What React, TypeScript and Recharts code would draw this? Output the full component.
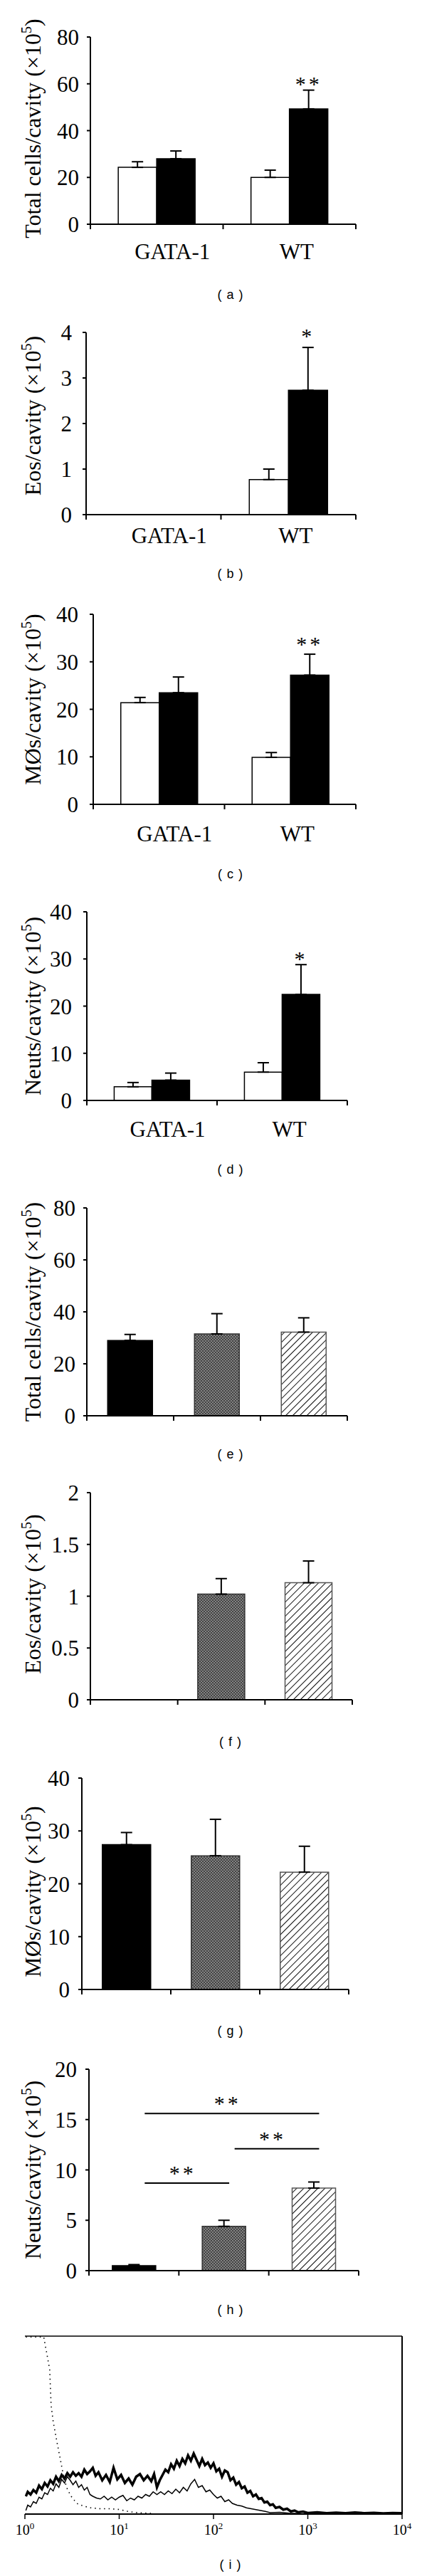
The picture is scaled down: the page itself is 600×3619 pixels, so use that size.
import React from "react"
import {
  Bar,
  BarChart,
  Cell,
  ErrorBar,
  LabelList,
  Line,
  LineChart,
  ReferenceLine,
  XAxis,
  YAxis,
} from "recharts"

const SERIF = "'Liberation Serif', 'Times New Roman', serif"
const SANS = "'Liberation Sans', Arial, sans-serif"
const INK = "#000"

// (a)-(d): GATA-1 vs WT, open = control, filled = challenged (x10^5 cells/cavity)
const STRAINS = ["GATA-1", "WT"]

const TOTAL_OPEN = [24.3, 20.0]
const TOTAL_OPEN_ERR = [2.4, 3.1]
const TOTAL_FILLED = [28.0, 49.3]
const TOTAL_FILLED_ERR = [3.3, 8.0]
const TOTAL_SIG = ["", "**"]

const EOS_OPEN = [0, 0.77]
const EOS_OPEN_ERR = [0, 0.23]
const EOS_FILLED = [0, 2.73]
const EOS_FILLED_ERR = [0, 0.94]
const EOS_SIG = ["", "*"]

const MAC_OPEN = [21.4, 9.9]
const MAC_OPEN_ERR = [1.1, 1.0]
const MAC_FILLED = [23.5, 27.2]
const MAC_FILLED_ERR = [3.3, 4.4]
const MAC_SIG = ["", "**"]

const NEUT_OPEN = [2.9, 6.0]
const NEUT_OPEN_ERR = [0.9, 2.0]
const NEUT_FILLED = [4.3, 22.5]
const NEUT_FILLED_ERR = [1.5, 6.3]
const NEUT_SIG = ["", "*"]

// (e)-(h): three treatment groups (solid, dotted, hatched)
const TREATMENTS = ["solid", "dotted", "hatched"]

const TOTAL2 = [29.0, 31.5, 32.2]
const TOTAL2_ERR = [2.3, 7.8, 5.5]
const EOS2 = [0, 1.02, 1.13]
const EOS2_ERR = [0, 0.15, 0.21]
const MAC2 = [27.4, 25.3, 22.2]
const MAC2_ERR = [2.3, 6.9, 4.9]
const NEUT2 = [0.5, 4.4, 8.2]
const NEUT2_ERR = [0.1, 0.6, 0.6]

// significance brackets in (h): compared groups and bracket level (x10^5)
const NEUT2_BRACKETS = [
  { from: "solid", to: "hatched", level: 15.6, label: "**" },
  { from: "dotted", to: "hatched", level: 12.1, label: "**" },
  { from: "solid", to: "dotted", level: 8.7, label: "**" },
]

// (i): flow histogram, x = log10 intensity, y = % of max count
const THICK_LOG = [
  0.01, 0.03, 0.06, 0.09, 0.12, 0.15, 0.18, 0.21, 0.24, 0.27, 0.3, 0.33, 0.36,
  0.39, 0.42, 0.45, 0.48, 0.51, 0.54, 0.57, 0.6, 0.63, 0.66, 0.69, 0.72, 0.75,
  0.78, 0.82, 0.86, 0.9, 0.94, 0.98, 1.02, 1.06, 1.1, 1.14, 1.18, 1.22, 1.26,
  1.3, 1.34, 1.37, 1.4, 1.43, 1.46, 1.49, 1.52, 1.55, 1.58, 1.61, 1.64, 1.67,
  1.7, 1.73, 1.76, 1.79, 1.82, 1.85, 1.88, 1.91, 1.94, 1.97, 2.0, 2.03, 2.06,
  2.09, 2.12, 2.15, 2.18, 2.21, 2.24, 2.27, 2.3, 2.33, 2.36, 2.39, 2.42, 2.45,
  2.48, 2.51, 2.54, 2.57, 2.6, 2.63, 2.66, 2.7, 2.74, 2.78, 2.82, 2.86, 2.9,
  2.95, 3.0, 3.1, 3.2, 3.3, 3.4, 3.5, 3.6, 3.7, 3.8, 3.9, 4.0,
]
const THICK_COUNT = [
  10, 12.5, 11, 13.5, 12, 16, 14, 17.5, 15.5, 19, 17, 21, 18.5,
  22, 20, 23, 21, 23.5, 21.5, 23, 21, 25, 22.5, 24, 26, 21.5,
  23.5, 19, 22, 18, 26, 19.5, 22, 17.5, 20, 16.5, 21, 22.5, 19,
  21.5, 18.5, 22.5, 15, 19, 22, 25, 23.5, 28, 25.5, 30, 27, 31,
  28.5, 33, 30, 34, 30.5, 27, 31, 27.5, 29, 26, 28.5, 24, 25.5,
  21, 24.5, 23.5, 19, 20.5, 16.5, 18, 14.5, 15.5, 12, 13, 10, 11,
  8.5, 9, 6.5, 7, 5, 5.5, 3.5, 4, 2.5, 3, 1.5, 2, 1,
  1.4, 0.6, 1, 0.5, 0.8, 0.5, 0.9, 0.5, 0.7, 0.4, 0.6, 0.5,
]

const THIN_LOG = [
  0.01, 0.03, 0.06, 0.09, 0.12, 0.15, 0.18, 0.21, 0.24, 0.27, 0.3, 0.33, 0.36,
  0.39, 0.42, 0.45, 0.48, 0.51, 0.54, 0.57, 0.6, 0.63, 0.66, 0.69, 0.72, 0.76,
  0.8, 0.84, 0.88, 0.92, 0.96, 1.0, 1.04, 1.08, 1.12, 1.16, 1.2, 1.24, 1.28,
  1.32, 1.36, 1.4, 1.44, 1.48, 1.52, 1.56, 1.6, 1.64, 1.68, 1.72, 1.76, 1.8,
  1.84, 1.88, 1.92, 1.96, 2.0, 2.04, 2.08, 2.12, 2.16, 2.2, 2.25, 2.3, 2.35,
  2.4, 2.45, 2.5, 2.55, 2.6, 2.7, 2.8, 2.9,
]
const THIN_COUNT = [
  2, 5, 4, 7, 6, 9.5, 8.5, 12, 11, 14.5, 13, 17, 15,
  19.5, 17.5, 21, 19, 16.5, 18.5, 15, 16.5, 13.5, 15, 11, 10, 9,
  8.5, 10, 8, 9.5, 8, 9.5, 10.5, 7.5, 9, 8, 10, 9, 11,
  10, 12.5, 11, 12.5, 11, 13, 11.5, 14, 12, 15, 13, 17, 19.5,
  15, 16, 12.5, 13.5, 11, 9, 10, 7, 8, 6, 5, 4.5, 3.5,
  3, 2.5, 2, 1.5, 0.8, 1, 0.5, 0.4,
]

const DOTTED_LOG = [
  0.01, 0.2, 0.215, 0.24, 0.263, 0.278, 0.3, 0.338, 0.373, 0.416, 0.45, 0.49,
  0.55, 0.62, 0.7, 0.8, 0.9, 1.0, 1.08, 1.15, 1.25, 1.35,
]
const DOTTED_COUNT = [
  99.5, 99.5, 95, 88, 81, 61, 52, 41, 31.5, 19.5, 14, 10,
  6, 4.5, 3.5, 3, 3, 2.6, 1.6, 1, 0.6, 0.4,
]

const DECADES = [0, 1, 2, 3, 4]

interface Series {
  key: string
  values: number[]
  errors: number[]
  fills: string[]
  strokes: string[]
  sig?: string[]
}

interface Bracket {
  from: string
  to: string
  level: number
  label: string
}

interface BarPanelProps {
  id: string
  top: number
  yTop: number
  yZero: number
  xLeft: number
  xRight: number
  max: number
  ticks: number[]
  groups: string[]
  series: Series[]
  title: string
  titleShift?: number
  tickGap: number
  labelDrop?: number
  gapPct: string
  starGap?: number
  brackets?: Bracket[]
}

const LABEL_DX = [22, 10]

function buildRows(groups: string[], series: Series[]) {
  return groups.map((name, i) => {
    const row: Record<string, unknown> = { name }
    series.forEach((s) => {
      row[s.key] = s.values[i]
      row[`${s.key}Err`] = [0, s.errors[i]]
      // star text | error | value, so the label can place itself above the whisker
      row[`${s.key}Sig`] =
        s.sig && s.sig[i] ? `${s.sig[i]}|${s.errors[i]}|${s.values[i]}` : ""
    })
    return row
  })
}

const starLabel = (gap: number) => (p: any) => {
  if (!p.value) return null
  const vb = p.viewBox || {}
  const x = p.x ?? vb.x
  const y = p.y ?? vb.y
  const width = p.width ?? vb.width
  const height = p.height ?? vb.height
  const [text, errStr, valStr] = String(p.value).split("|")
  const v = Number(valStr)
  if (!v) return null
  const errPx = Number(errStr) * (Math.abs(height) / v)
  const barTop = Math.min(y, y + height)
  return (
    <text
      x={x + width / 2}
      y={barTop - errPx - gap + 15}
      textAnchor="middle"
      fontFamily={SERIF}
      fontSize={30}
      letterSpacing={4}
      fill={INK}
    >
      {text}
    </text>
  )
}

function BarPanel(props: BarPanelProps) {
  const {
    id,
    top,
    yTop,
    yZero,
    xLeft,
    xRight,
    max,
    ticks,
    groups,
    series,
    title,
    titleShift = 0,
    tickGap,
    labelDrop,
    gapPct,
    starGap = 15,
    brackets,
  } = props
  const height = yZero - top + 70
  const rows = buildRows(groups, series)
  const bw = (xRight - xLeft) / groups.length
  const titleY = (yTop + yZero) / 2 - top + titleShift

  const CatTick = (p: any) => {
    const { x, y, payload, index } = p
    const half = bw / 2
    return (
      <g>
        <line x1={x - half} x2={x - half} y1={y} y2={y + 7} stroke={INK} strokeWidth={2} />
        {index === groups.length - 1 && (
          <line x1={x + half} x2={x + half} y1={y} y2={y + 7} stroke={INK} strokeWidth={2} />
        )}
        {labelDrop != null && (
          <text
            x={x + (LABEL_DX[index] || 0)}
            y={y + labelDrop + 10}
            textAnchor="middle"
            fontFamily={SERIF}
            fontSize={31}
            fill={INK}
          >
            {payload.value}
          </text>
        )}
      </g>
    )
  }

  const renderTitle = () => (
    <text
      x={57}
      y={titleY}
      transform={`rotate(-90 57 ${titleY})`}
      textAnchor="middle"
      fontFamily={SERIF}
      fontSize={32}
      fill={INK}
    >
      {title}
      <tspan fontSize={20} dy={-13}>
        5
      </tspan>
      <tspan dy={13}>)</tspan>
    </text>
  )

  // bracket ends sit a little right of the bar centres in the original figure
  const bracketShape = (label: string) => (p: any) => {
    const x1 = p.x1 + bw * 0.12
    const x2 = p.x2 + bw * 0.06
    const y = p.y1
    return (
      <g>
        <line x1={x1} x2={x2} y1={y} y2={y} stroke={INK} strokeWidth={2} />
        <text
          x={(x1 + x2) / 2 - 6}
          y={y - 4}
          textAnchor="middle"
          fontFamily={SERIF}
          fontSize={30}
          letterSpacing={4}
          fill={INK}
        >
          {label}
        </text>
      </g>
    )
  }

  return (
    <div style={{ position: "absolute", left: 0, top, width: 600, height }}>
      <BarChart
        width={600}
        height={height}
        data={rows}
        margin={{ top: yTop - top, right: 600 - xRight, bottom: 10, left: 0 }}
        barGap={0}
        barCategoryGap={gapPct}
      >
        <defs>
          <pattern id={`dots-${id}`} width={4} height={4} patternUnits="userSpaceOnUse">
            <rect width={4} height={4} fill="#444" />
            <rect x={0} y={0} width={2} height={2} fill="#828282" />
            <rect x={2} y={2} width={2} height={2} fill="#828282" />
          </pattern>
          <pattern
            id={`hatch-${id}`}
            width={7}
            height={7}
            patternUnits="userSpaceOnUse"
            patternTransform="rotate(45)"
          >
            <rect width={7} height={7} fill="#fff" />
            <line x1={0} y1={0} x2={0} y2={7} stroke="#111" strokeWidth={2} />
          </pattern>
        </defs>
        <XAxis
          xAxisId="cat"
          dataKey="name"
          height={60}
          interval={0}
          tickSize={0}
          tickMargin={0}
          tickLine={false}
          axisLine={{ stroke: INK, strokeWidth: 2 }}
          tick={CatTick}
        />
        <YAxis
          width={xLeft}
          domain={[0, max]}
          ticks={ticks}
          interval={0}
          tickSize={5}
          tickMargin={tickGap - 5}
          tickLine={{ stroke: INK, strokeWidth: 2 }}
          axisLine={{ stroke: INK, strokeWidth: 2 }}
          tick={{ fontSize: 31, fontFamily: SERIF, fill: INK }}
          label={renderTitle}
        />
        {series.map((s) => (
          <Bar key={s.key} xAxisId="cat" dataKey={s.key} isAnimationActive={false}>
            {rows.map((_, i) => (
              <Cell
                key={i}
                fill={s.fills[i].replace("#id", id)}
                stroke={s.strokes[i]}
                strokeWidth={1.5}
              />
            ))}
            <ErrorBar
              dataKey={`${s.key}Err`}
              width={8}
              strokeWidth={2}
              stroke={INK}
              direction="y"
              isAnimationActive={false}
            />
            {s.sig && <LabelList dataKey={`${s.key}Sig`} content={starLabel(starGap)} />}
          </Bar>
        ))}
        {brackets &&
          brackets.map((b, i) => (
            <ReferenceLine
              key={i}
              xAxisId="cat"
              segment={[
                { x: b.from, y: b.level },
                { x: b.to, y: b.level },
              ]}
              ifOverflow="visible"
              shape={bracketShape(b.label)}
            />
          ))}
      </BarChart>
    </div>
  )
}

const pairSeries = (
  open: number[],
  openErr: number[],
  filled: number[],
  filledErr: number[],
  sig: string[]
): Series[] => [
  { key: "open", values: open, errors: openErr, fills: ["#fff", "#fff"], strokes: [INK, INK] },
  {
    key: "filled",
    values: filled,
    errors: filledErr,
    fills: [INK, INK],
    strokes: [INK, INK],
    sig,
  },
]

const trioSeries = (values: number[], errors: number[]): Series[] => [
  {
    key: "value",
    values,
    errors,
    fills: [INK, "url(#dots-#id)", "url(#hatch-#id)"],
    strokes: [INK, "#333", "#555"],
  },
]

function PanelTag({ letter, y }: { letter: string; y: number }) {
  return (
    <div
      style={{
        position: "absolute",
        left: 224,
        width: 200,
        top: y - 11,
        height: 22,
        lineHeight: "22px",
        textAlign: "center",
        fontFamily: SANS,
        fontSize: 18,
        letterSpacing: 1,
        color: INK,
      }}
    >
      ( {letter} )
    </div>
  )
}

const DecadeTick = (p: any) => (
  <text x={p.x} y={p.y + 18} textAnchor="middle" fontFamily={SERIF} fontSize={20} fill={INK}>
    10
    <tspan dy={-8} fontSize={13}>
      {p.payload.value}
    </tspan>
  </text>
)

function HistogramPanel() {
  const thick = THICK_LOG.map((x, i) => ({ logI: x, count: THICK_COUNT[i] }))
  const thin = THIN_LOG.map((x, i) => ({ logI: x, count: THIN_COUNT[i] }))
  const dotted = DOTTED_LOG.map((x, i) => ({ logI: x, count: DOTTED_COUNT[i] }))
  return (
    <div style={{ position: "absolute", left: 0, top: 3260, width: 600, height: 330 }}>
      <LineChart
        width={600}
        height={330}
        margin={{ top: 22, right: 35, left: 35, bottom: 18 }}
      >
        <XAxis
          type="number"
          dataKey="logI"
          domain={[0, 4]}
          ticks={DECADES}
          interval={0}
          allowDataOverflow
          height={40}
          tickSize={7}
          tickMargin={4}
          axisLine={{ stroke: INK, strokeWidth: 2 }}
          tickLine={{ stroke: INK, strokeWidth: 1.5 }}
          tick={DecadeTick}
        />
        <YAxis
          type="number"
          domain={[0, 100]}
          allowDataOverflow
          width={0}
          tick={false}
          tickLine={false}
          axisLine={{ stroke: INK, strokeWidth: 3 }}
        />
        <ReferenceLine y={100} stroke={INK} strokeWidth={1.5} />
        <ReferenceLine x={4} stroke={INK} strokeWidth={2} />
        <Line
          data={dotted}
          dataKey="count"
          type="linear"
          stroke={INK}
          strokeWidth={1.6}
          strokeDasharray="1.5 5"
          dot={false}
          isAnimationActive={false}
        />
        <Line
          data={thin}
          dataKey="count"
          type="linear"
          stroke={INK}
          strokeWidth={1.5}
          dot={false}
          isAnimationActive={false}
        />
        <Line
          data={thick}
          dataKey="count"
          type="linear"
          stroke={INK}
          strokeWidth={3.5}
          dot={false}
          isAnimationActive={false}
        />
      </LineChart>
    </div>
  )
}

export default function App() {
  return (
    <div style={{ position: "relative", width: 600, height: 3619, background: "#fff", overflow: "hidden" }}>
      <style>{"body{margin:0}"}</style>

      <BarPanel
        id="a"
        top={2}
        yTop={52}
        yZero={315}
        xLeft={127}
        xRight={500}
        max={80}
        ticks={[0, 20, 40, 60, 80]}
        groups={STRAINS}
        series={pairSeries(TOTAL_OPEN, TOTAL_OPEN_ERR, TOTAL_FILLED, TOTAL_FILLED_ERR, TOTAL_SIG)}
        title="Total cells/cavity (×10"
        titleShift={-3}
        tickGap={16}
        labelDrop={39}
        gapPct="21%"
        starGap={14}
      />
      <PanelTag letter="a" y={414} />

      <BarPanel
        id="b"
        top={417}
        yTop={467}
        yZero={723}
        xLeft={121}
        xRight={500}
        max={4}
        ticks={[0, 1, 2, 3, 4]}
        groups={STRAINS}
        series={pairSeries(EOS_OPEN, EOS_OPEN_ERR, EOS_FILLED, EOS_FILLED_ERR, EOS_SIG)}
        title="Eos/cavity (×10"
        titleShift={-11}
        tickGap={20}
        labelDrop={30}
        gapPct="21%"
        starGap={21}
      />
      <PanelTag letter="b" y={806} />

      <BarPanel
        id="c"
        top={813}
        yTop={863}
        yZero={1130}
        xLeft={131}
        xRight={500}
        max={40}
        ticks={[0, 10, 20, 30, 40]}
        groups={STRAINS}
        series={pairSeries(MAC_OPEN, MAC_OPEN_ERR, MAC_FILLED, MAC_FILLED_ERR, MAC_SIG)}
        title="MØs/cavity (×10"
        titleShift={-14}
        tickGap={21}
        labelDrop={42}
        gapPct="21%"
        starGap={19}
      />
      <PanelTag letter="c" y={1228} />

      <BarPanel
        id="d"
        top={1231}
        yTop={1281}
        yZero={1546}
        xLeft={122}
        xRight={488}
        max={40}
        ticks={[0, 10, 20, 30, 40]}
        groups={STRAINS}
        series={pairSeries(NEUT_OPEN, NEUT_OPEN_ERR, NEUT_FILLED, NEUT_FILLED_ERR, NEUT_SIG)}
        title="Neuts/cavity (×10"
        tickGap={21}
        labelDrop={41}
        gapPct="21%"
        starGap={13}
      />
      <PanelTag letter="d" y={1643} />

      <BarPanel
        id="e"
        top={1647}
        yTop={1697}
        yZero={1989}
        xLeft={122}
        xRight={488}
        max={80}
        ticks={[0, 20, 40, 60, 80]}
        groups={TREATMENTS}
        series={trioSeries(TOTAL2, TOTAL2_ERR)}
        title="Total cells/cavity (×10"
        tickGap={16}
        gapPct="24%"
      />
      <PanelTag letter="e" y={2043} />

      <BarPanel
        id="f"
        top={2047}
        yTop={2097}
        yZero={2388}
        xLeft={127}
        xRight={495}
        max={2}
        ticks={[0, 0.5, 1, 1.5, 2]}
        groups={TREATMENTS}
        series={trioSeries(EOS2, EOS2_ERR)}
        title="Eos/cavity (×10"
        titleShift={-3}
        tickGap={16}
        gapPct="23%"
      />
      <PanelTag letter="f" y={2447} />

      <BarPanel
        id="g"
        top={2448}
        yTop={2498}
        yZero={2795}
        xLeft={115}
        xRight={490}
        max={40}
        ticks={[0, 10, 20, 30, 40]}
        groups={TREATMENTS}
        series={trioSeries(MAC2, MAC2_ERR)}
        title="MØs/cavity (×10"
        titleShift={11}
        tickGap={17}
        gapPct="23%"
      />
      <PanelTag letter="g" y={2853} />

      <BarPanel
        id="h"
        top={2857}
        yTop={2907}
        yZero={3190}
        xLeft={125}
        xRight={504}
        max={20}
        ticks={[0, 5, 10, 15, 20]}
        groups={TREATMENTS}
        series={trioSeries(NEUT2, NEUT2_ERR)}
        title="Neuts/cavity (×10"
        tickGap={17}
        gapPct="26%"
        brackets={NEUT2_BRACKETS}
      />
      <PanelTag letter="h" y={3245} />

      <HistogramPanel />
      <PanelTag letter="i" y={3603} />
    </div>
  )
}
